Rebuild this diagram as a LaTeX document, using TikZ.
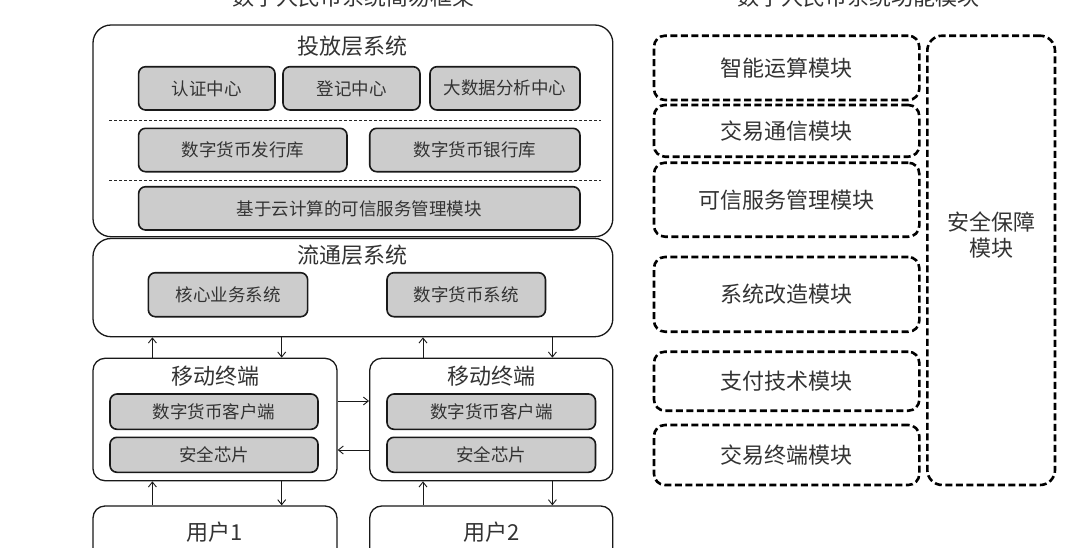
\documentclass[tikz,border=0pt]{standalone}
\usepackage{fontspec}
\setmainfont{Noto Sans CJK SC}
\usetikzlibrary{arrows.meta}
\tikzset{
  txt/.style={text=black!80, inner sep=0pt},
  fbig/.style={font=\fontsize{22}{24}\selectfont},
  fsmall/.style={font=\fontsize{17.5}{20}\selectfont},
  outerbox/.style={draw=black!90, line width=1.3pt, rounded corners=18pt, fill=white, inner sep=0pt},
  mobbox/.style={draw=black!90, line width=1.3pt, rounded corners=12pt, fill=white, inner sep=0pt},
  greybox/.style={draw=black!90, line width=1.6pt, rounded corners=7pt, fill=black!20, inner sep=0pt, txt, fsmall},
  dashbox/.style={draw=black, line width=2.6pt, dash pattern=on 7pt off 3.5pt, rounded corners=11pt, inner sep=0pt, txt, fbig},
  sepline/.style={draw=black!85, line width=0.9pt, dash pattern=on 3pt off 2pt},
  arr/.style={draw=black!90, line width=0.9pt, -{Straight Barb[length=5pt,width=8pt]}},
}
\begin{document}
\begin{tikzpicture}[x=1pt,y=-1pt]
\useasboundingbox (0,0) rectangle (1080,547);
\clip (0,0) rectangle (1080,547);
\fill[white] (0,0) rectangle (1080,547);

% titles (cut by the top edge)
\node[txt, fbig, anchor=base] (titleL) at (353,5) {数字人民币系统简易框架};
\node[txt, fbig, anchor=base] (titleR) at (858,5) {数字人民币系统功能模块};

% ---- 投放层系统 ----
\node[outerbox, minimum width=519.8pt, minimum height=211.7pt] (tf) at (352.9,130.85) {};
\node[txt, fbig] (tft) at (352.9,46) {投放层系统};
\node[greybox, minimum width=136.4pt, minimum height=43.3pt] (rz) at (206.8,88.35) {认证中心};
\node[greybox, minimum width=137pt, minimum height=43.3pt] (dj) at (351.5,88.35) {登记中心};
\node[greybox, minimum width=150pt, minimum height=43.3pt] (dsj) at (505,88.35) {大数据分析中心};
\draw[sepline] (109,120.5) -- (601,120.5);
\node[greybox, minimum width=208.4pt, minimum height=43.4pt] (fx) at (242.8,150) {数字货币发行库};
\node[greybox, minimum width=210.3pt, minimum height=43.4pt] (yh) at (474.85,150) {数字货币银行库};
\draw[sepline] (109,180.5) -- (601,180.5);
\node[greybox, minimum width=441.4pt, minimum height=43.3pt] (jy) at (359.3,208.35) {基于云计算的可信服务管理模块};

% ---- 流通层系统 ----
\node[outerbox, minimum width=519.8pt, minimum height=98.2pt] (lt) at (352.9,287.6) {};
\node[txt, fbig] (ltt) at (352.9,255.5) {流通层系统};
\node[greybox, minimum width=159.3pt, minimum height=44pt] (hx) at (228,294.7) {核心业务系统};
\node[greybox, minimum width=158.5pt, minimum height=44pt] (sz) at (466.25,294.7) {数字货币系统};

% ---- 移动终端 ----
\node[mobbox, minimum width=244pt, minimum height=122.4pt] (m1) at (215,419.5) {};
\node[txt, fbig] (m1t) at (215,376) {移动终端};
\node[greybox, minimum width=208pt, minimum height=35.3pt] (c1) at (214,411.65) {数字货币客户端};
\node[greybox, minimum width=208pt, minimum height=35pt] (s1) at (214,454.8) {安全芯片};

\node[mobbox, minimum width=243.1pt, minimum height=122.4pt] (m2) at (491.25,419.5) {};
\node[txt, fbig] (m2t) at (491.25,376) {移动终端};
\node[greybox, minimum width=208.5pt, minimum height=35.3pt] (c2) at (491.25,411.65) {数字货币客户端};
\node[greybox, minimum width=208.5pt, minimum height=35pt] (s2) at (491.25,454.8) {安全芯片};

% ---- 用户 ----
\node[mobbox, minimum width=244pt, minimum height=74pt] (u1) at (215,543) {};
\node[txt, fbig] (u1t) at (215,532) {用户1};
\node[mobbox, minimum width=243.1pt, minimum height=74pt] (u2) at (491.25,543) {};
\node[txt, fbig] (u2t) at (491.25,532) {用户2};

% ---- arrows ----
\coordinate (xa) at (152.4,0);
\coordinate (xb) at (281.7,0);
\coordinate (xc) at (423,0);
\coordinate (xd) at (552.4,0);
\coordinate (ya) at (0,401);
\coordinate (yb) at (0,450);
\draw[arr] (xa |- m1.north) -- (xa |- lt.south);
\draw[arr] (xb |- lt.south) -- (xb |- m1.north);
\draw[arr] (xc |- m2.north) -- (xc |- lt.south);
\draw[arr] (xd |- lt.south) -- (xd |- m2.north);
\draw[arr] (xa |- u1.north) -- (xa |- m1.south);
\draw[arr] (xb |- m1.south) -- (xb |- u1.north);
\draw[arr] (xc |- u2.north) -- (xc |- m2.south);
\draw[arr] (xd |- m2.south) -- (xd |- u2.north);
\draw[arr] (m1.east |- ya) -- (m2.west |- ya);
\draw[arr] (m2.west |- yb) -- (m1.east |- yb);

% ---- 功能模块 ----
\node[dashbox, minimum width=265.3pt, minimum height=64.3pt] (b1) at (786.65,67.85) {智能运算模块};
\node[dashbox, minimum width=265.3pt, minimum height=51.7pt] (b2) at (786.65,130.85) {交易通信模块};
\node[dashbox, minimum width=265.3pt, minimum height=74pt] (b3) at (786.65,199.7) {可信服务管理模块};
\node[dashbox, minimum width=265.3pt, minimum height=74.7pt] (b4) at (786.65,294.35) {系统改造模块};
\node[dashbox, minimum width=265.3pt, minimum height=59pt] (b5) at (786.65,381.2) {支付技术模块};
\node[dashbox, minimum width=265.3pt, minimum height=60pt] (b6) at (786.65,455) {交易终端模块};
\node[dashbox, rounded corners=15pt, minimum width=127.7pt, minimum height=449.3pt] (aq) at (991.15,260.35) {};
\node[txt, fbig, align=center, font=\fontsize{22}{26}\selectfont] (aqt) at (991,235) {安全保障\\模块};
\end{tikzpicture}
\end{document}
